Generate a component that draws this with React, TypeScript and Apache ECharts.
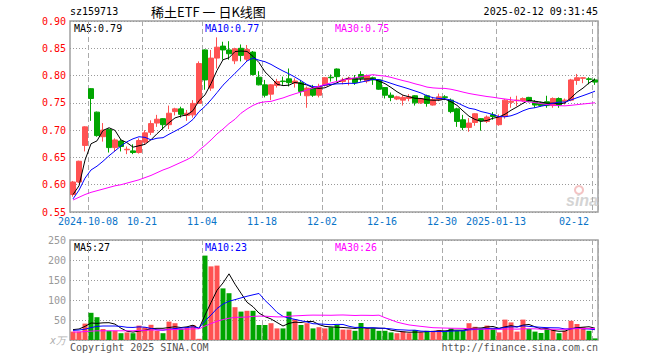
import React, { useEffect, useRef } from "react";
import * as echarts from "echarts";

const dates = [
  "2024-09-26","2024-09-27","2024-09-30",
  "2024-10-08","2024-10-09","2024-10-10","2024-10-11","2024-10-14","2024-10-15","2024-10-16","2024-10-17","2024-10-18",
  "2024-10-21","2024-10-22","2024-10-23","2024-10-24","2024-10-25","2024-10-28","2024-10-29","2024-10-30","2024-10-31",
  "2024-11-01","2024-11-04","2024-11-05","2024-11-06","2024-11-07","2024-11-08","2024-11-11","2024-11-12","2024-11-13",
  "2024-11-14","2024-11-15","2024-11-18","2024-11-19","2024-11-20","2024-11-21","2024-11-22","2024-11-25","2024-11-26",
  "2024-11-27","2024-11-28","2024-11-29",
  "2024-12-02","2024-12-03","2024-12-04","2024-12-05","2024-12-06","2024-12-09","2024-12-10","2024-12-11","2024-12-12",
  "2024-12-13","2024-12-16","2024-12-17","2024-12-18","2024-12-19","2024-12-20","2024-12-23","2024-12-24","2024-12-25",
  "2024-12-26","2024-12-27","2024-12-30","2024-12-31",
  "2025-01-02","2025-01-03","2025-01-06","2025-01-07","2025-01-08","2025-01-09","2025-01-10","2025-01-13","2025-01-14",
  "2025-01-15","2025-01-16","2025-01-17","2025-01-20","2025-01-21","2025-01-22","2025-01-23","2025-01-24","2025-01-27",
  "2025-02-05","2025-02-06","2025-02-07","2025-02-10","2025-02-11","2025-02-12",
];

const opens = [
  0.582,0.605,0.672,0.776,0.733,0.688,0.701,0.668,0.680,0.664,
  0.662,0.659,0.678,0.696,0.713,0.721,0.710,0.734,0.739,0.727,
  0.728,0.749,0.847,0.777,0.832,0.854,0.847,0.827,0.850,0.830,
  0.843,0.797,0.783,0.766,0.782,0.790,0.794,0.786,0.787,0.763,
  0.777,0.764,0.782,0.797,0.812,0.789,0.793,0.795,0.802,0.790,
  0.796,0.792,0.778,0.764,0.757,0.755,0.758,0.763,0.750,0.763,
  0.746,0.756,0.761,0.755,0.739,0.719,0.705,0.714,0.721,0.716,
  0.728,0.710,0.725,0.751,0.754,0.754,0.760,0.752,0.750,0.752,
  0.745,0.758,0.753,0.755,0.791,0.795,0.794,0.792,
];
const closes = [
  0.605,0.643,0.706,0.758,0.690,0.700,0.668,0.682,0.670,0.665,
  0.659,0.681,0.695,0.712,0.720,0.710,0.731,0.739,0.729,0.731,
  0.749,0.822,0.792,0.832,0.852,0.847,0.840,0.849,0.837,0.848,
  0.802,0.783,0.764,0.783,0.789,0.789,0.787,0.790,0.771,0.777,
  0.764,0.780,0.796,0.796,0.798,0.792,0.795,0.787,0.795,0.800,
  0.792,0.775,0.764,0.760,0.761,0.760,0.761,0.750,0.758,0.749,
  0.756,0.761,0.760,0.734,0.716,0.705,0.713,0.730,0.717,0.724,
  0.725,0.725,0.755,0.753,0.755,0.758,0.753,0.746,0.745,0.745,
  0.758,0.746,0.755,0.792,0.796,0.796,0.793,0.788,
];
const highs = [
  0.607,0.644,0.707,0.777,0.734,0.713,0.703,0.685,0.684,0.670,
  0.674,0.685,0.700,0.718,0.728,0.722,0.745,0.741,0.743,0.737,
  0.755,0.826,0.848,0.847,0.870,0.862,0.863,0.851,0.857,0.856,
  0.845,0.808,0.792,0.784,0.794,0.798,0.813,0.795,0.792,0.780,
  0.783,0.785,0.797,0.802,0.813,0.796,0.798,0.801,0.808,0.802,
  0.798,0.793,0.779,0.769,0.763,0.764,0.766,0.764,0.759,0.765,
  0.761,0.767,0.764,0.758,0.741,0.728,0.722,0.731,0.722,0.727,
  0.733,0.729,0.757,0.761,0.763,0.760,0.761,0.755,0.752,0.763,
  0.760,0.760,0.758,0.794,0.803,0.797,0.797,0.795,
];
const lows = [
  0.578,0.603,0.661,0.717,0.688,0.679,0.659,0.661,0.661,0.656,
  0.656,0.657,0.673,0.691,0.706,0.701,0.702,0.727,0.723,0.717,
  0.723,0.748,0.774,0.772,0.813,0.829,0.829,0.821,0.826,0.826,
  0.800,0.782,0.760,0.755,0.778,0.783,0.780,0.778,0.763,0.741,
  0.761,0.760,0.780,0.789,0.790,0.784,0.782,0.783,0.789,0.786,
  0.783,0.774,0.758,0.753,0.755,0.745,0.753,0.745,0.748,0.743,
  0.745,0.753,0.755,0.731,0.706,0.700,0.697,0.708,0.699,0.713,
  0.719,0.708,0.721,0.741,0.744,0.752,0.751,0.741,0.743,0.741,
  0.741,0.741,0.747,0.753,0.783,0.786,0.784,0.783,
];
const volumes = [
  21,21,41,68,57,27.5,23,23,17,19,
  17,36,32,38,23,17,46,42,27.5,32,
  37.5,3,211,184,186,129,117,82,71,73,
  73,37.5,37.5,42,29,29,71,52,37.5,42,
  29,32,29,32,37.5,26,26,23,42.5,29,
  29,23,23,19,17,21,17,25,19,23,
  23,25,23,29,23,23,42,33,29,36,
  29,19,51,44,21,51,27.5,21,17.5,27.5,
  26,17,23,48,40,32,23,4,
];

// moving-average values before the window is complete
const ma5Head = [0.582, 0.598, 0.645, 0.675];
const ma10Head = [0.574, 0.590, 0.612, 0.627, 0.634, 0.643, 0.653, 0.662, 0.671];
const ma30Head = [
  0.572,0.577,0.582,0.586,0.589,0.592,0.595,0.598,0.600,0.603,
  0.606,0.609,0.613,0.617,0.622,0.627,0.631,0.636,0.641,0.646,
  0.652,0.663,0.672,0.682,0.693,0.702,0.712,0.720,0.731,
];
const vma5Head = [26, 27.5, 34, 42.5];
const vma10Head = [24, 25, 27, 31, 34, 35, 35, 35, 34];
const vma30Head = [
  20,20,21,22,23,23,23,23,23,23,
  23,24,24,25,25,25,26,26,27,27,
  28,28,35,41,47,51,54.5,56.5,57,
];

const tickDates = ["2024-10-08","2024-10-21","2024-11-04","2024-11-18","2024-12-02","2024-12-16","2024-12-30","2025-01-13","2025-02-12"];
const tickTexts = ["2024-10-08","10-21","11-04","11-18","12-02","12-16","12-30","2025-01-13","02-12"];
const priceTicks = [0.55, 0.9, 0.05];
const volTicks = [0, 250, 50];

const RED = "#ff5252";
const GREEN = "#00a500";
const MONO = "'DejaVu Sans Mono', 'Liberation Mono', monospace";

function movingAvg(src: number[], n: number, head: number[], digits: number) {
  return src.map((_, i) => {
    if (i < n - 1) return head[i];
    let s = 0;
    for (let k = i - n + 1; k <= i; k++) s += src[k];
    return +(s / n).toFixed(digits);
  });
}

export default function App() {
  const ref = useRef<HTMLDivElement>(null);
  useEffect(() => {
    if (!ref.current) return;
    const chart = echarts.init(ref.current, undefined, { renderer: "svg" });
    const tickSet = new Set(tickDates.map((d) => dates.indexOf(d)));
    const labelMap: Record<string, string> = {};
    tickDates.forEach((d, i) => (labelMap[d] = tickTexts[i]));
    const showIdx = (idx: number) => tickSet.has(idx);

    const ma5 = movingAvg(closes, 5, ma5Head, 4);
    const ma10 = movingAvg(closes, 10, ma10Head, 4);
    const ma30 = movingAvg(closes, 30, ma30Head, 4);
    const vma5 = movingAvg(volumes, 5, vma5Head, 2);
    const vma10 = movingAvg(volumes, 10, vma10Head, 2);
    const vma30 = movingAvg(volumes, 30, vma30Head, 2);

    const splitX = {
      show: true,
      interval: (idx: number) => showIdx(idx),
      lineStyle: { color: "#aaaaaa", type: [5, 3], width: 1 },
    };
    const lineS = (name: string, data: number[], color: string, xi: number) => ({
      name,
      type: "line",
      xAxisIndex: xi,
      yAxisIndex: xi,
      data,
      showSymbol: false,
      symbol: "none",
      silent: true,
      z: 5,
      lineStyle: { color, width: 1 },
    });
    const txt = (text: string, x: number, y: number, fill: string, extra: any = {}) => ({
      type: "text",
      x,
      y,
      silent: true,
      style: {
        text,
        fill,
        font: `10px ${MONO}`,
        textAlign: "left",
        textVerticalAlign: "middle",
        verticalAlign: "middle",
        ...extra,
      },
    });

    chart.setOption({
      animation: false,
      backgroundColor: "#ffffff",
      grid: [
        { left: 70, top: 21, width: 528, height: 191, show: true, borderColor: "#a0a0a0", borderWidth: 1.5, backgroundColor: "transparent" },
        { left: 70, top: 240, width: 528, height: 100, show: true, borderColor: "#a0a0a0", borderWidth: 1.5, backgroundColor: "transparent" },
      ],
      xAxis: [
        {
          type: "category",
          gridIndex: 0,
          data: dates,
          boundaryGap: true,
          axisLine: { show: false },
          axisTick: { show: false },
          axisLabel: {
            interval: (idx: number) => showIdx(idx),
            formatter: (v: string) => labelMap[v] || "",
            color: "#0a74c8",
            fontFamily: MONO,
            fontSize: 10,
            margin: 4,
            padding: [0, 6, 0, 0],
            alignMaxLabel: "right",
          },
          splitLine: splitX,
        },
        {
          type: "category",
          gridIndex: 1,
          data: dates,
          boundaryGap: true,
          axisLine: { show: false },
          axisTick: { show: false },
          axisLabel: { show: false },
          splitLine: splitX,
        },
      ],
      yAxis: [
        {
          type: "value",
          gridIndex: 0,
          min: priceTicks[0],
          max: priceTicks[1],
          interval: priceTicks[2],
          axisLine: { show: false },
          axisTick: { show: false },
          axisLabel: {
            color: "#ff0000",
            fontFamily: MONO,
            fontSize: 10,
            margin: 4,
            formatter: (v: number) => v.toFixed(2),
          },
          splitLine: { show: true, lineStyle: { color: "#999999", type: [1, 2], width: 1 } },
        },
        {
          type: "value",
          gridIndex: 1,
          min: volTicks[0],
          max: volTicks[1],
          interval: volTicks[2],
          axisLine: { show: false },
          axisTick: { show: false },
          axisLabel: {
            color: "#999999",
            fontFamily: MONO,
            fontSize: 10,
            margin: 4,
            formatter: (v: number) => (v === 0 ? "" : String(v)),
          },
          splitLine: { show: true, lineStyle: { color: "#999999", type: [1, 2], width: 1 } },
        },
      ],
      series: [
        {
          type: "candlestick",
          xAxisIndex: 0,
          yAxisIndex: 0,
          barWidth: 5,
          silent: true,
          data: closes.map((c, i) => [opens[i], c, lows[i], highs[i]]),
          itemStyle: { color: RED, color0: GREEN, borderColor: RED, borderColor0: GREEN, borderWidth: 1 },
        },
        lineS("MA5", ma5, "#000000", 0),
        lineS("MA10", ma10, "#0000ff", 0),
        lineS("MA30", ma30, "#ff00ff", 0),
        {
          type: "bar",
          xAxisIndex: 1,
          yAxisIndex: 1,
          barWidth: 5,
          silent: true,
          data: volumes.map((v, i) => ({
            value: v,
            itemStyle: { color: closes[i] >= opens[i] ? RED : GREEN },
          })),
        },
        lineS("VMA5", vma5, "#000000", 1),
        lineS("VMA10", vma10, "#0000ff", 1),
        lineS("VMA30", vma30, "#ff00ff", 1),
      ],
      graphic: [
        txt("sz159713", 70, 11, "#000000"),
        txt("稀土ETF 一 日K线图", 151, 11, "#000000", { font: "13px 'Noto Sans CJK SC', sans-serif" }),
        txt("2025-02-12 09:31:45", 598, 11, "#000000", { textAlign: "right", align: "right" }),
        txt("MA5:0.79", 74, 28, "#000000"),
        txt("MA10:0.77", 205, 28, "#0000ff"),
        txt("MA30:0.75", 335, 28, "#ff00ff"),
        txt("MA5:27", 74, 247, "#000000"),
        txt("MA10:23", 205, 247, "#0000ff"),
        txt("MA30:26", 335, 247, "#ff00ff"),
        txt("x万", 66, 340, "#b0b0b0", { textAlign: "right", align: "right", font: `italic 10px ${MONO}` }),
        txt("Copyright 2025 SINA.COM", 70, 347, "#555555"),
        txt("http://finance.sina.com.cn", 598, 347, "#555555", { textAlign: "right", align: "right" }),
        {
          type: "ring",
          silent: true,
          shape: { cx: 579, cy: 190, r: 5, r0: 3 },
          style: { fill: "#f4c4c4" },
        },
        txt("sina", 566, 200, "#d4d4d4", { font: "italic bold 16px 'Liberation Sans', sans-serif" }),
      ],
    });
    return () => chart.dispose();
  }, []);
  return (
    <div
      ref={ref}
      style={{ position: "fixed", left: 0, top: 0, width: 660, height: 360, background: "#fff" }}
    />
  );
}
